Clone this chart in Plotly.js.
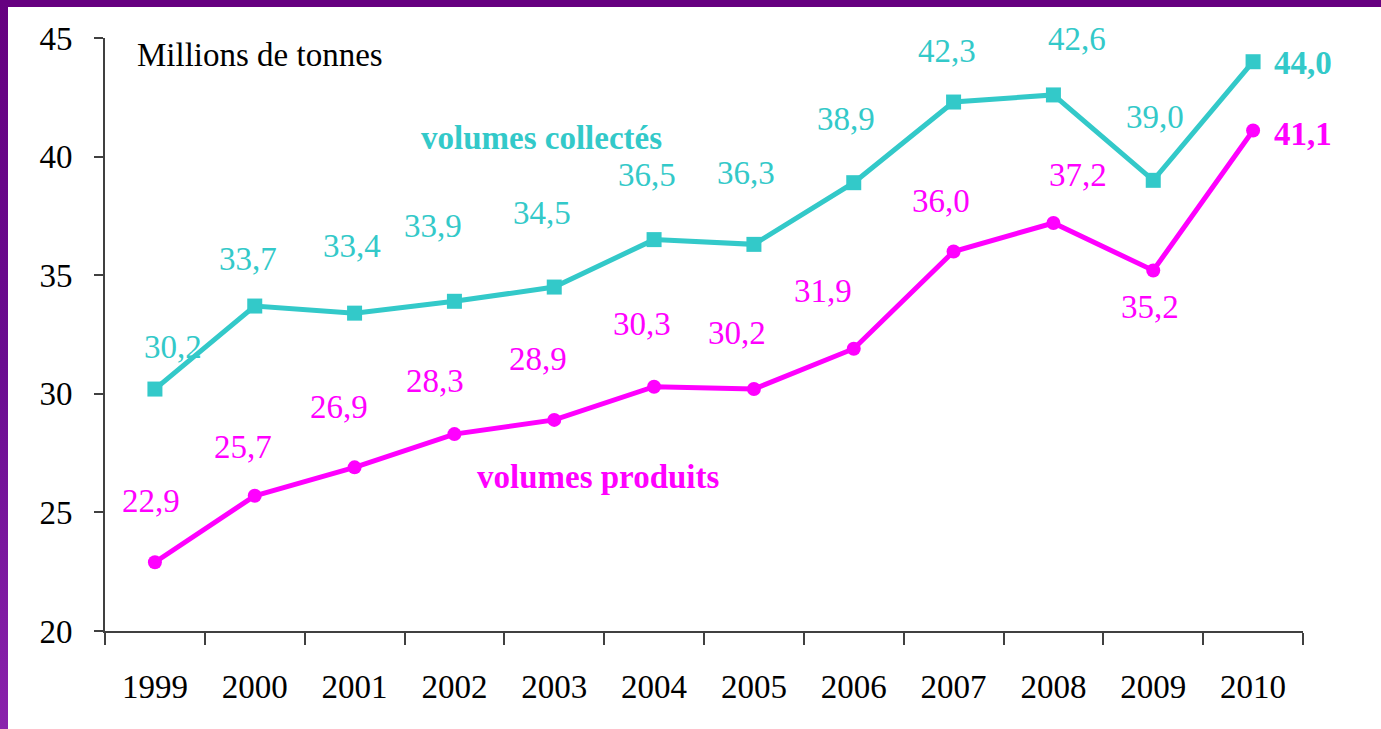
<!DOCTYPE html>
<html>
<head>
<meta charset="utf-8">
<script src="https://cdn.plot.ly/plotly-3.0.1.min.js"></script>
<style>
  html, body { margin: 0; padding: 0; background: #ffffff; }
  #chart { width: 1381px; height: 729px; }
  .band-top { position: absolute; left: 0; top: 0; width: 1381px; height: 7px; background: #660080; z-index: 5; }
  .band-left { position: absolute; left: 0; top: 0; width: 8px; height: 729px; background: linear-gradient(#660080, #6a0c90 50%, #8a22ac); z-index: 5; }
</style>
</head>
<body>
<div class="band-top"></div>
<div class="band-left"></div>
<div id="chart"></div>
<script>
// ---- data ----
const years = ["1999","2000","2001","2002","2003","2004","2005","2006","2007","2008","2009","2010"];
const collectes = [30.2, 33.7, 33.4, 33.9, 34.5, 36.5, 36.3, 38.9, 42.3, 42.6, 39.0, 44.0];
const produits  = [22.9, 25.7, 26.9, 28.3, 28.9, 30.3, 30.2, 31.9, 36.0, 37.2, 35.2, 41.1];
const yTicks = [20, 25, 30, 35, 40, 45];

// ---- label placement (pixel offsets, layout only) ----
const shiftC = [[18,39],[-7,44],[-3,64],[-21,72],[-12,71],[-7,62],[-8,68],[-8,61],[-7,48],[24,53],[2,60],[50,-4]];
const shiftP = [[-4,58],[-12,46],[-16,57],[-19,50],[-16,58],[-12,60],[-17,53],[-31,55],[-13,47],[25,45],[-3,-40],[50,-6]];

const TEAL = "#33c9c9";
const MAG = "#ff00ff";
const SERIF = "Liberation Serif, Times New Roman, serif";
const fmt = v => v.toFixed(1).replace(".", ",");

const traces = [
  { x: years, y: collectes, type: "scatter", mode: "lines+markers",
    line: { color: TEAL, width: 5 }, marker: { symbol: "square", size: 15, color: TEAL },
    hoverinfo: "skip", showlegend: false },
  { x: years, y: produits, type: "scatter", mode: "lines+markers",
    line: { color: MAG, width: 5 }, marker: { symbol: "circle", size: 14, color: MAG },
    hoverinfo: "skip", showlegend: false }
];

const annotations = [];
const last = years.length - 1;
years.forEach((yr, i) => {
  const wrap = s => (i === last ? "<b>" + s + "</b>" : s);
  annotations.push({ x: i, y: collectes[i], xref: "x", yref: "y", text: wrap(fmt(collectes[i])),
    showarrow: false, xanchor: "center", yanchor: "middle",
    xshift: shiftC[i][0], yshift: shiftC[i][1] + 3,
    font: { family: SERIF, size: 33, color: TEAL } });
  annotations.push({ x: i, y: produits[i], xref: "x", yref: "y", text: wrap(fmt(produits[i])),
    showarrow: false, xanchor: "center", yanchor: "middle",
    xshift: shiftP[i][0], yshift: shiftP[i][1] + 3,
    font: { family: SERIF, size: 33, color: MAG } });
});
annotations.push({ x: 0.025, y: 0.971, xref: "paper", yref: "paper", xanchor: "left", yanchor: "middle",
  text: "Millions de tonnes", showarrow: false, font: { family: SERIF, size: 33, color: "#000000" } });
annotations.push({ x: 0.364, y: 0.832, xref: "paper", yref: "paper", xanchor: "center", yanchor: "middle",
  text: "<b>volumes collectés</b>", showarrow: false, font: { family: SERIF, size: 33, color: TEAL } });
annotations.push({ x: 0.412, y: 0.259, xref: "paper", yref: "paper", xanchor: "center", yanchor: "middle",
  text: "<b>volumes produits</b>", showarrow: false, font: { family: SERIF, size: 33, color: MAG } });

const layout = {
  width: 1381, height: 729,
  margin: { l: 105, r: 78, t: 38, b: 98 },
  paper_bgcolor: "#ffffff", plot_bgcolor: "#ffffff",
  showlegend: false,
  font: { family: SERIF, size: 33, color: "#000000" },
  xaxis: {
    type: "category", range: [-0.5, 11.5], tickson: "boundaries",
    showline: true, linecolor: "#404040", linewidth: 2,
    ticks: "outside", ticklen: 12, tickwidth: 2, tickcolor: "#404040",
    showgrid: false, zeroline: false, ticklabelstandoff: 25,
    tickfont: { family: SERIF, size: 33, color: "#000000" }
  },
  yaxis: {
    range: [20, 45], tickvals: yTicks, ticktext: yTicks.map(String),
    showline: true, linecolor: "#404040", linewidth: 2,
    ticks: "outside", ticklen: 9, tickwidth: 2, tickcolor: "#404040",
    showgrid: false, zeroline: false, ticklabelstandoff: 15,
    tickfont: { family: SERIF, size: 33, color: "#000000" }
  },
  annotations: annotations
};

Plotly.newPlot("chart", traces, layout, { displayModeBar: false, staticPlot: true });
</script>
</body>
</html>
